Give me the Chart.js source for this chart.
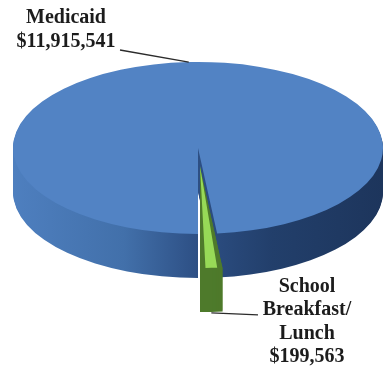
<!DOCTYPE html>
<html lang="en">
<head>
  <meta charset="UTF-8" />
  <title>Medicaid and School Breakfast/Lunch</title>
  <style>
    body { margin: 0; background: #fff; }
    canvas { display: block; }
  </style>
</head>
<body>

  <canvas id="pieChart" width="385" height="371"></canvas>

  <script src="https://cdn.jsdelivr.net/npm/chart.js"></script>

  <script>
    const programs = ['Medicaid', 'School Breakfast/Lunch'];
    const amounts = [11915541, 199563];
    const medicaidLabel = ['Medicaid', '$11,915,541'];
    const schoolLabel = ['School', 'Breakfast/', 'Lunch', '$199,563'];

    // fake 3D: squash the pie vertically and stack copies below it for the side wall
    const squash = 0.465;
    const centerY = 148;
    const depth = 44;

    function flatten(ctx, el, drop) {
      ctx.translate(0, centerY + drop);
      ctx.scale(1, squash);
      ctx.translate(0, -el.y);
    }

    // same geometry Chart.js uses for an offset (exploded) arc
    function wedge(el) {
      const off = (el.options.offset || 0) / 4;
      const mid = (el.startAngle + el.endAngle) / 2;
      const fix = 1 - Math.sin(Math.min(Math.PI, el.circumference));
      return {
        x: el.x + Math.cos(mid) * off,
        y: el.y + Math.sin(mid) * off,
        r: el.outerRadius + off * fix,
        start: el.startAngle,
        end: el.endAngle
      };
    }

    function wedgePath(ctx, el) {
      const w = wedge(el);
      ctx.beginPath();
      ctx.moveTo(w.x, w.y);
      ctx.arc(w.x, w.y, w.r, w.start, w.end);
      ctx.closePath();
    }

    function toScreen(el, x, y, drop) {
      return { x: x, y: centerY + (y - el.y) * squash + drop };
    }

    const tiltPlugin = {
      id: 'tilt',
      beforeDatasetsDraw(chart) {
        const ctx = chart.ctx;
        const arcs = chart.getDatasetMeta(0).data;
        const first = arcs[0];
        const shade = ctx.createLinearGradient(first.x - first.outerRadius, 0, first.x + first.outerRadius, 0);
        shade.addColorStop(0, '#4e7fbf');
        shade.addColorStop(0.3, '#4270aa');
        shade.addColorStop(0.5, '#2d4f84');
        shade.addColorStop(0.7, '#223f6b');
        shade.addColorStop(1, '#1d355c');
        const sides = [shade, '#4e7a2b'];

        arcs.forEach((el, i) => {
          for (let k = depth; k > 0; k--) {
            ctx.save();
            flatten(ctx, el, k);
            wedgePath(ctx, el);
            ctx.fillStyle = sides[i];
            ctx.fill();
            ctx.restore();
          }
        });

        ctx.save();
        flatten(ctx, first, 0);
      },
      afterDatasetsDraw(chart) {
        chart.ctx.restore();
      },
      afterDraw(chart) {
        const ctx = chart.ctx;
        const arcs = chart.getDatasetMeta(0).data;
        const blue = arcs[0];
        const green = arcs[1];

        ctx.save();
        ctx.font = 'bold 20px "Liberation Serif"';
        ctx.fillStyle = '#1c1c1c';
        ctx.textAlign = 'center';
        medicaidLabel.forEach((t, j) => ctx.fillText(t, 66, 23 + j * 24));
        schoolLabel.forEach((t, j) => ctx.fillText(t, 307, 292 + j * 23.3));

        ctx.strokeStyle = '#2b2b2b';
        ctx.lineWidth = 1.3;

        const a = -Math.PI / 2 - 0.05;
        const top = toScreen(blue, blue.x + Math.cos(a) * blue.outerRadius, blue.y + Math.sin(a) * blue.outerRadius, 0);
        ctx.beginPath();
        ctx.moveTo(120, 50);
        ctx.lineTo(top.x, top.y);
        ctx.stroke();

        const w = wedge(green);
        const m = (w.start + w.end) / 2;
        const foot = toScreen(green, w.x + Math.cos(m) * w.r, w.y + Math.sin(m) * w.r, depth);
        ctx.beginPath();
        ctx.moveTo(foot.x, foot.y + 1);
        ctx.lineTo(258, foot.y + 3);
        ctx.stroke();
        ctx.restore();
      }
    };

    new Chart(document.getElementById('pieChart'), {
      type: 'pie',
      data: {
        labels: programs,
        datasets: [{
          data: amounts,
          backgroundColor: ['#5283c4', '#97da57'],
          borderWidth: 0,
          offset: [0, 154],
          radius: 185,
          clip: false
        }]
      },
      options: {
        responsive: false,
        animation: false,
        rotation: 180,
        layout: { padding: { left: 11 } },
        plugins: {
          legend: { display: false },
          tooltip: { enabled: false }
        }
      },
      plugins: [tiltPlugin]
    });
  </script>
</body>
</html>
